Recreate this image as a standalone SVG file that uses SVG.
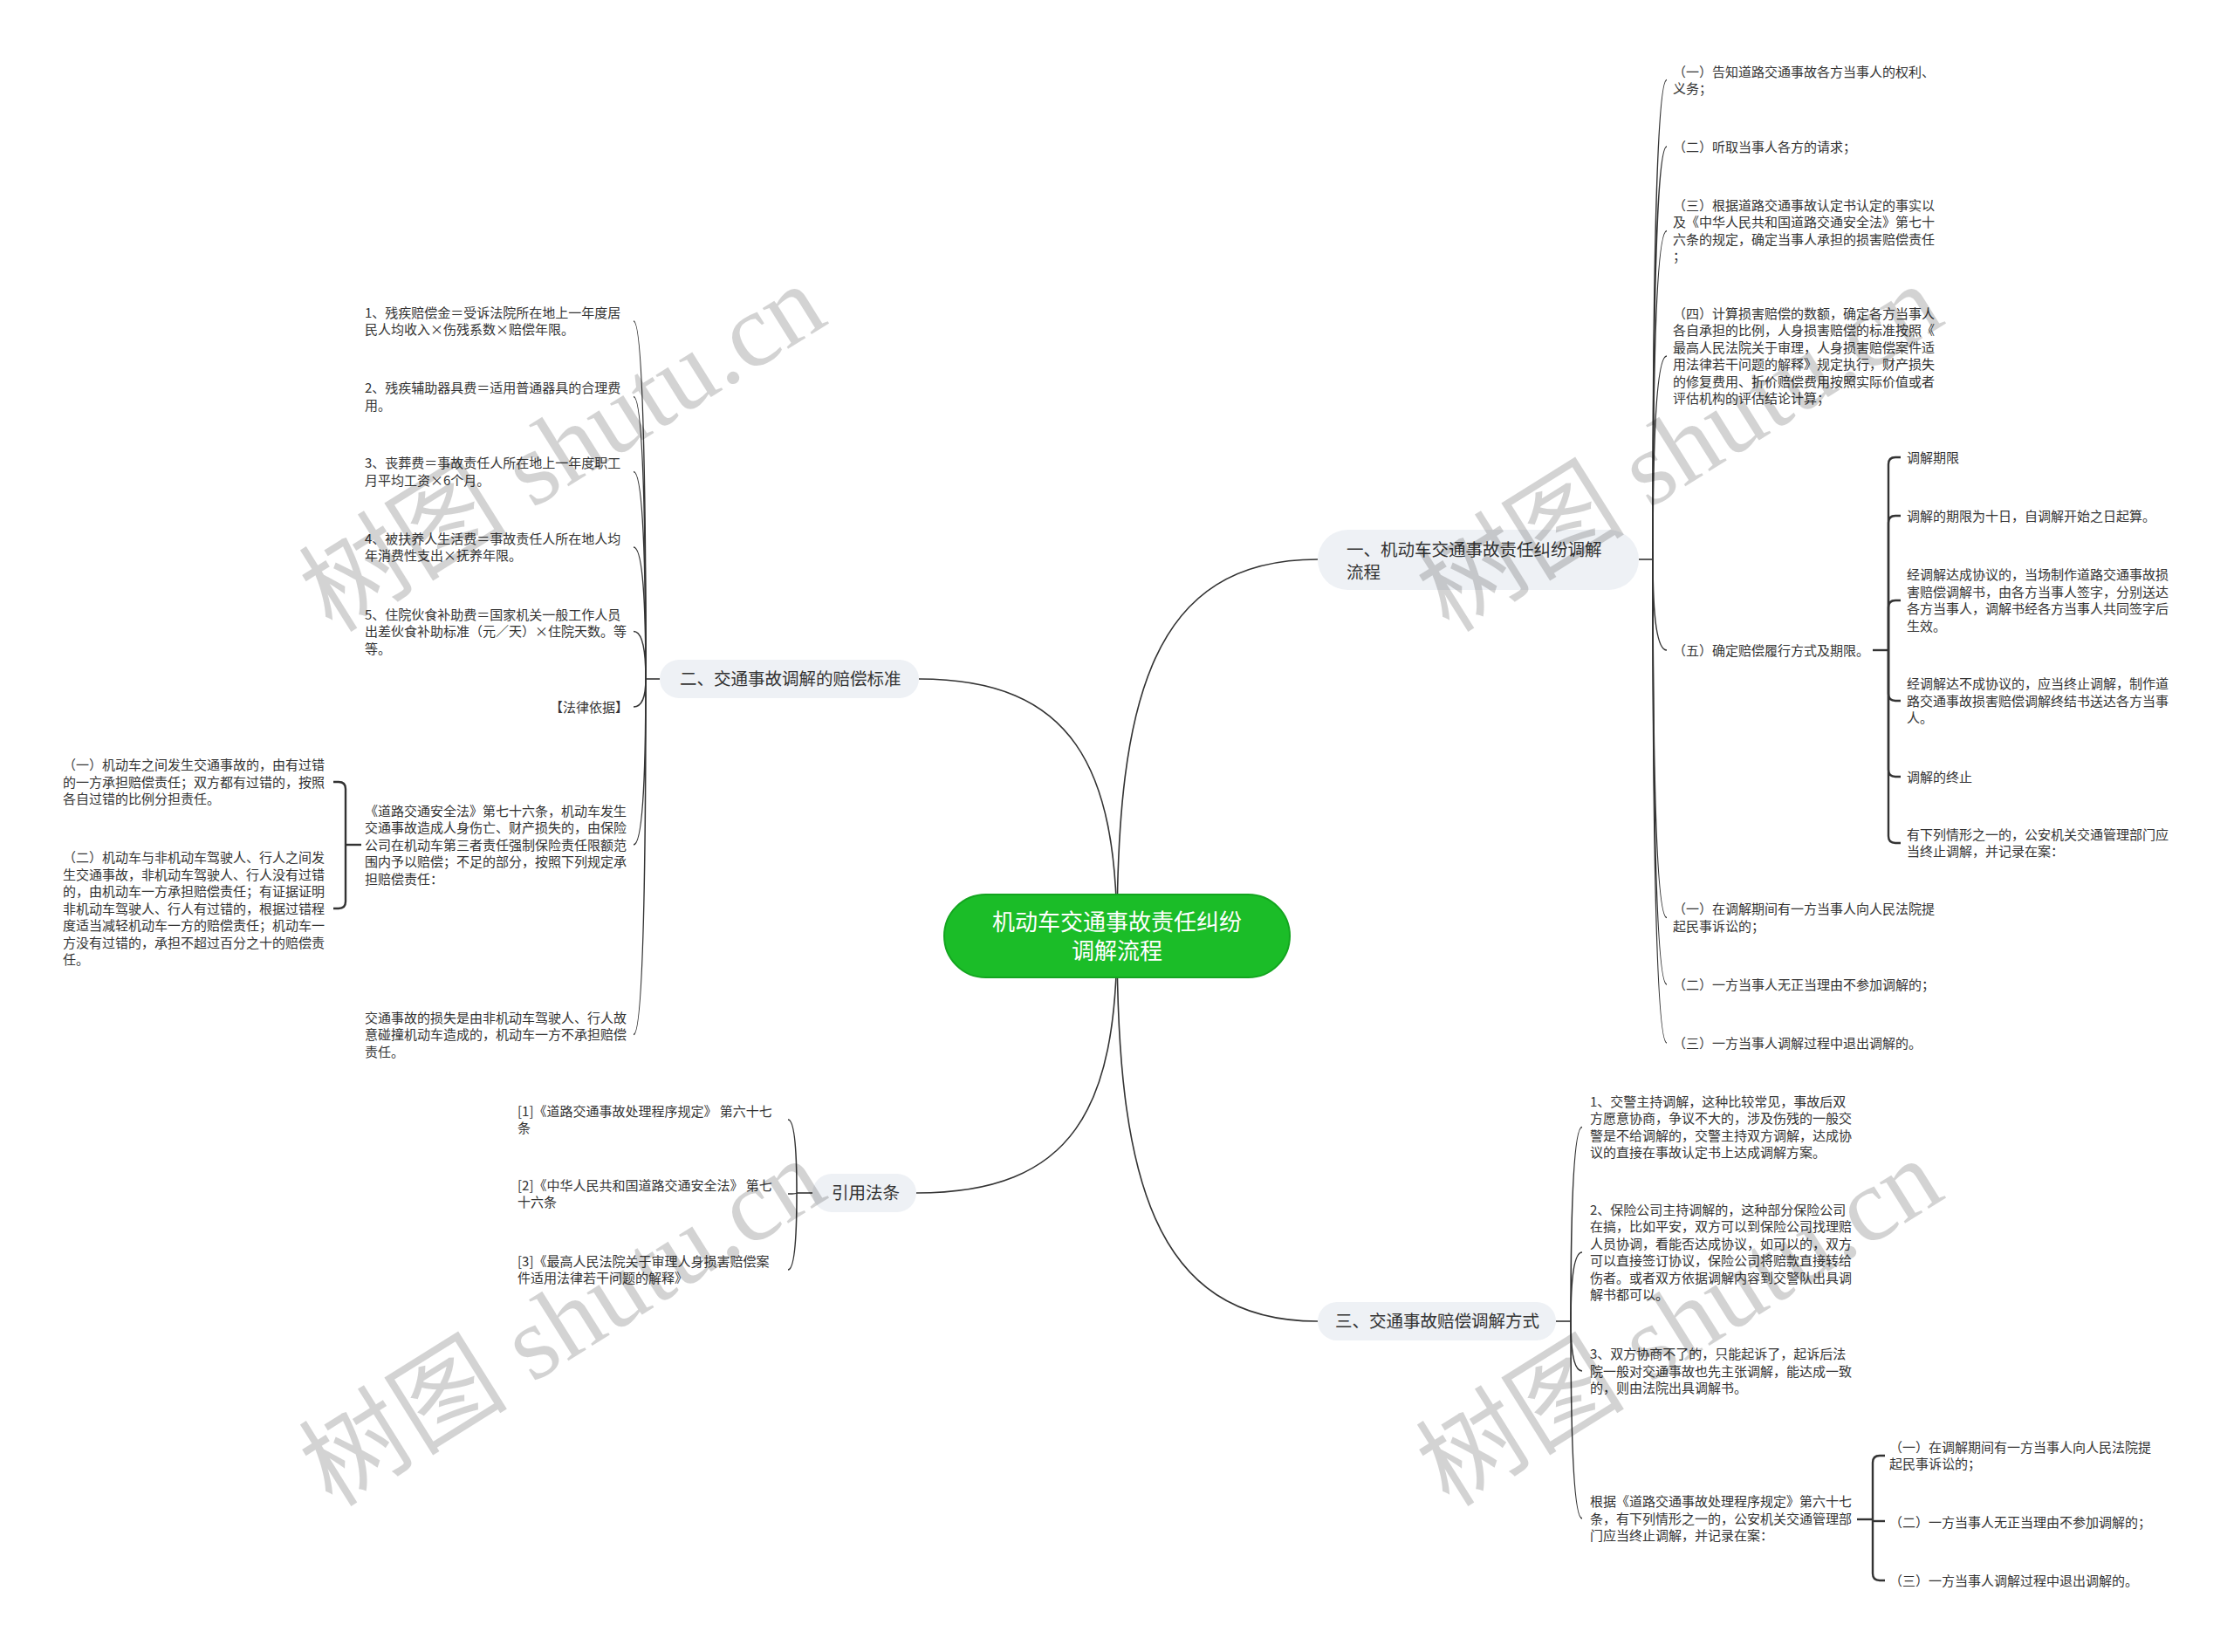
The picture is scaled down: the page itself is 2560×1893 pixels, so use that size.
<svg xmlns="http://www.w3.org/2000/svg" width="2560" height="1893" viewBox="0 0 2560 1893">
<style>
text{font-family:"Noto Sans CJK SC","Noto Sans",sans-serif}
.leaf{font-size:15px;fill:#333}
.br{font-size:19.5px;fill:#333}
.root{font-size:26px;fill:#fff}
.ln{fill:none;stroke:#333;stroke-width:1.6}
.bk{fill:none;stroke:#333;stroke-width:2.4}
.box{fill:#eef1f5}
.wm{font-family:"Liberation Serif","Noto Sans CJK SC",serif;font-size:120px;fill:#000;opacity:.17}
</style>
<rect width="2560" height="1893" fill="#fff"/>
<g id="connectors">
<path class="ln" d="M1280 1073 C1280 800 1320 641 1510 641"/>
<path class="ln" d="M1280 1073 C1280 880 1230 778 1053 778"/>
<path class="ln" d="M1280 1073 C1280 1270 1230 1367 1050 1367"/>
<path class="ln" d="M1280 1073 C1280 1346 1320 1514 1510 1514"/>
<path class="ln" d="M1878 641 H1894"/>
<path class="ln" d="M1894 641 Q1894 91.5 1910 91.5"/>
<path class="ln" d="M1894 641 Q1894 168 1910 168"/>
<path class="ln" d="M1894 641 Q1894 264.5 1910 264.5"/>
<path class="ln" d="M1894 641 Q1894 408 1910 408"/>
<path class="ln" d="M1894 641 Q1894 745 1910 745"/>
<path class="ln" d="M1894 641 Q1894 1051.5 1910 1051.5"/>
<path class="ln" d="M1894 641 Q1894 1128 1910 1128"/>
<path class="ln" d="M1894 641 Q1894 1195 1910 1195"/>
<path class="bk" d="M2146 745 H2164"/>
<path class="bk" d="M2164 745 V532 Q2164 524 2172 524 H2178"/>
<path class="bk" d="M2164 745 V599 Q2164 591 2172 591 H2178"/>
<path class="bk" d="M2164 745 V696 Q2164 688 2172 688 H2178"/>
<path class="bk" d="M2164 745 V795 Q2164 803 2172 803 H2178"/>
<path class="bk" d="M2164 745 V882 Q2164 890 2172 890 H2178"/>
<path class="bk" d="M2164 745 V958 Q2164 966 2172 966 H2178"/>
<path class="ln" d="M756 778 H740"/>
<path class="ln" d="M740 778 Q740 368 726 368"/>
<path class="ln" d="M740 778 Q740 454.5 726 454.5"/>
<path class="ln" d="M740 778 Q740 540.5 726 540.5"/>
<path class="ln" d="M740 778 Q740 627 726 627"/>
<path class="ln" d="M740 778 Q740 723.5 726 723.5"/>
<path class="ln" d="M740 778 Q740 810 726 810"/>
<path class="ln" d="M740 778 Q740 968 726 968"/>
<path class="ln" d="M740 778 Q740 1185.5 726 1185.5"/>
<path class="bk" d="M414 968 H396"/>
<path class="bk" d="M396 968 V904 Q396 896 388 896 H382"/>
<path class="bk" d="M396 968 V1033 Q396 1041 388 1041 H382"/>
<path class="ln" d="M931 1367 H913"/>
<path class="ln" d="M913 1367 Q913 1283 903 1283"/>
<path class="ln" d="M913 1367 Q913 1368 903 1368"/>
<path class="ln" d="M913 1367 Q913 1455 903 1455"/>
<path class="ln" d="M1783 1514 H1800"/>
<path class="ln" d="M1800 1514 Q1800 1291.5 1813 1291.5"/>
<path class="ln" d="M1800 1514 Q1800 1435 1813 1435"/>
<path class="ln" d="M1800 1514 Q1800 1571 1813 1571"/>
<path class="ln" d="M1800 1514 Q1800 1740 1813 1740"/>
<path class="bk" d="M2128 1741 H2146"/>
<path class="bk" d="M2146 1741 V1676 Q2146 1668 2154 1668 H2160"/>
<path class="bk" d="M2146 1743 H2160"/>
<path class="bk" d="M2146 1741 V1803 Q2146 1811 2154 1811 H2160"/>
</g>
<g id="root">
<rect x="1082" y="1025" width="396" height="95" rx="47.5" fill="#1bbd28" stroke="#13a51f" stroke-width="2"/>
<text class="root" text-anchor="middle"><tspan x="1280" y="1065.5">机动车交通事故责任纠纷</tspan><tspan x="1280" y="1098.5">调解流程</tspan></text>
</g>
<g id="b1">
<rect class="box" x="1510" y="607" width="368" height="69" rx="34.5"/>
<text class="br"><tspan x="1543" y="637">一、机动车交通事故责任纠纷调解</tspan><tspan x="1543" y="663">流程</tspan></text>
</g>
<g id="b1-1"><text class="leaf"><tspan x="1917" y="87.5">（一）告知道路交通事故各方当事人的权利、</tspan><tspan x="1917" y="107">义务；</tspan></text></g>
<g id="b1-2"><text class="leaf"><tspan x="1917" y="173.5">（二）听取当事人各方的请求；</tspan></text></g>
<g id="b1-3"><text class="leaf"><tspan x="1917" y="240.75">（三）根据道路交通事故认定书认定的事实以</tspan><tspan x="1917" y="260.25">及《中华人民共和国道路交通安全法》第七十</tspan><tspan x="1917" y="279.75">六条的规定，确定当事人承担的损害赔偿责任</tspan><tspan x="1917" y="299.25">；</tspan></text></g>
<g id="b1-4"><text class="leaf"><tspan x="1917" y="364.75">（四）计算损害赔偿的数额，确定各方当事人</tspan><tspan x="1917" y="384.25">各自承担的比例，人身损害赔偿的标准按照《</tspan><tspan x="1917" y="403.75">最高人民法院关于审理，人身损害赔偿案件适</tspan><tspan x="1917" y="423.25">用法律若干问题的解释》规定执行，财产损失</tspan><tspan x="1917" y="442.75">的修复费用、折价赔偿费用按照实际价值或者</tspan><tspan x="1917" y="462.25">评估机构的评估结论计算；</tspan></text></g>
<g id="b1-5"><text class="leaf"><tspan x="1917" y="750.5">（五）确定赔偿履行方式及期限。</tspan></text></g>
<g id="b1-5-1"><text class="leaf"><tspan x="2185" y="529.5">调解期限</tspan></text></g>
<g id="b1-5-2"><text class="leaf"><tspan x="2185" y="596.5">调解的期限为十日，自调解开始之日起算。</tspan></text></g>
<g id="b1-5-3"><text class="leaf"><tspan x="2185" y="664.25">经调解达成协议的，当场制作道路交通事故损</tspan><tspan x="2185" y="683.75">害赔偿调解书，由各方当事人签字，分别送达</tspan><tspan x="2185" y="703.25">各方当事人，调解书经各方当事人共同签字后</tspan><tspan x="2185" y="722.75">生效。</tspan></text></g>
<g id="b1-5-4"><text class="leaf"><tspan x="2185" y="789">经调解达不成协议的，应当终止调解，制作道</tspan><tspan x="2185" y="808.5">路交通事故损害赔偿调解终结书送达各方当事</tspan><tspan x="2185" y="828">人。</tspan></text></g>
<g id="b1-5-5"><text class="leaf"><tspan x="2185" y="895.5">调解的终止</tspan></text></g>
<g id="b1-5-6"><text class="leaf"><tspan x="2185" y="961.75">有下列情形之一的，公安机关交通管理部门应</tspan><tspan x="2185" y="981.25">当终止调解，并记录在案：</tspan></text></g>
<g id="b1-6"><text class="leaf"><tspan x="1917" y="1047.25">（一）在调解期间有一方当事人向人民法院提</tspan><tspan x="1917" y="1066.75">起民事诉讼的；</tspan></text></g>
<g id="b1-7"><text class="leaf"><tspan x="1917" y="1133.5">（二）一方当事人无正当理由不参加调解的；</tspan></text></g>
<g id="b1-8"><text class="leaf"><tspan x="1917" y="1200.5">（三）一方当事人调解过程中退出调解的。</tspan></text></g>
<g id="b2">
<rect class="box" x="756" y="756" width="297" height="44" rx="22"/>
<text class="br" x="779" y="785">二、交通事故调解的赔偿标准</text>
</g>
<g id="b2-1"><text class="leaf"><tspan x="418" y="363.75">1、残疾赔偿金＝受诉法院所在地上一年度居</tspan><tspan x="418" y="383.25">民人均收入×伤残系数×赔偿年限。</tspan></text></g>
<g id="b2-2"><text class="leaf"><tspan x="418" y="450.25">2、残疾辅助器具费＝适用普通器具的合理费</tspan><tspan x="418" y="469.75">用。</tspan></text></g>
<g id="b2-3"><text class="leaf"><tspan x="418" y="536.25">3、丧葬费＝事故责任人所在地上一年度职工</tspan><tspan x="418" y="555.75">月平均工资×6个月。</tspan></text></g>
<g id="b2-4"><text class="leaf"><tspan x="418" y="622.75">4、被扶养人生活费＝事故责任人所在地人均</tspan><tspan x="418" y="642.25">年消费性支出×抚养年限。</tspan></text></g>
<g id="b2-5"><text class="leaf"><tspan x="418" y="709.5">5、住院伙食补助费＝国家机关一般工作人员</tspan><tspan x="418" y="729">出差伙食补助标准（元／天）×住院天数。等</tspan><tspan x="418" y="748.5">等。</tspan></text></g>
<g id="b2-6"><text class="leaf" x="630" y="815.5">【法律依据】</text></g>
<g id="b2-7"><text class="leaf"><tspan x="418" y="934.5">《道路交通安全法》第七十六条，机动车发生</tspan><tspan x="418" y="954">交通事故造成人身伤亡、财产损失的，由保险</tspan><tspan x="418" y="973.5">公司在机动车第三者责任强制保险责任限额范</tspan><tspan x="418" y="993">围内予以赔偿；不足的部分，按照下列规定承</tspan><tspan x="418" y="1012.5">担赔偿责任：</tspan></text></g>
<g id="b2-7-1"><text class="leaf"><tspan x="72" y="882">（一）机动车之间发生交通事故的，由有过错</tspan><tspan x="72" y="901.5">的一方承担赔偿责任；双方都有过错的，按照</tspan><tspan x="72" y="921">各自过错的比例分担责任。</tspan></text></g>
<g id="b2-7-2"><text class="leaf"><tspan x="72" y="988">（二）机动车与非机动车驾驶人、行人之间发</tspan><tspan x="72" y="1007.5">生交通事故，非机动车驾驶人、行人没有过错</tspan><tspan x="72" y="1027">的，由机动车一方承担赔偿责任；有证据证明</tspan><tspan x="72" y="1046.5">非机动车驾驶人、行人有过错的，根据过错程</tspan><tspan x="72" y="1066">度适当减轻机动车一方的赔偿责任；机动车一</tspan><tspan x="72" y="1085.5">方没有过错的，承担不超过百分之十的赔偿责</tspan><tspan x="72" y="1105">任。</tspan></text></g>
<g id="b2-8"><text class="leaf"><tspan x="418" y="1171.5">交通事故的损失是由非机动车驾驶人、行人故</tspan><tspan x="418" y="1191">意碰撞机动车造成的，机动车一方不承担赔偿</tspan><tspan x="418" y="1210.5">责任。</tspan></text></g>
<g id="b3">
<rect class="box" x="931" y="1345" width="119" height="44" rx="22"/>
<text class="br" x="953" y="1374">引用法条</text>
</g>
<g id="b3-1"><text class="leaf"><tspan x="593" y="1278.75">[1]《道路交通事故处理程序规定》 第六十七</tspan><tspan x="593" y="1298.25">条</tspan></text></g>
<g id="b3-2"><text class="leaf"><tspan x="593" y="1363.75">[2]《中华人民共和国道路交通安全法》 第七</tspan><tspan x="593" y="1383.25">十六条</tspan></text></g>
<g id="b3-3"><text class="leaf"><tspan x="593" y="1450.75">[3]《最高人民法院关于审理人身损害赔偿案</tspan><tspan x="593" y="1470.25">件适用法律若干问题的解释》</tspan></text></g>
<g id="b4">
<rect class="box" x="1510" y="1492" width="273" height="44" rx="22"/>
<text class="br" x="1530" y="1521">三、交通事故赔偿调解方式</text>
</g>
<g id="b4-1"><text class="leaf"><tspan x="1822" y="1267.75">1、交警主持调解，这种比较常见，事故后双</tspan><tspan x="1822" y="1287.25">方愿意协商，争议不大的，涉及伤残的一般交</tspan><tspan x="1822" y="1306.75">警是不给调解的，交警主持双方调解，达成协</tspan><tspan x="1822" y="1326.25">议的直接在事故认定书上达成调解方案。</tspan></text></g>
<g id="b4-2"><text class="leaf"><tspan x="1822" y="1391.75">2、保险公司主持调解的，这种部分保险公司</tspan><tspan x="1822" y="1411.25">在搞，比如平安，双方可以到保险公司找理赔</tspan><tspan x="1822" y="1430.75">人员协调，看能否达成协议，如可以的，双方</tspan><tspan x="1822" y="1450.25">可以直接签订协议，保险公司将赔款直接转给</tspan><tspan x="1822" y="1469.75">伤者。或者双方依据调解内容到交警队出具调</tspan><tspan x="1822" y="1489.25">解书都可以。</tspan></text></g>
<g id="b4-3"><text class="leaf"><tspan x="1822" y="1557">3、双方协商不了的，只能起诉了，起诉后法</tspan><tspan x="1822" y="1576.5">院一般对交通事故也先主张调解，能达成一致</tspan><tspan x="1822" y="1596">的，则由法院出具调解书。</tspan></text></g>
<g id="b4-4"><text class="leaf"><tspan x="1822" y="1726">根据《道路交通事故处理程序规定》第六十七</tspan><tspan x="1822" y="1745.5">条，有下列情形之一的，公安机关交通管理部</tspan><tspan x="1822" y="1765">门应当终止调解，并记录在案：</tspan></text></g>
<g id="b4-4-1"><text class="leaf"><tspan x="2165" y="1663.75">（一）在调解期间有一方当事人向人民法院提</tspan><tspan x="2165" y="1683.25">起民事诉讼的；</tspan></text></g>
<g id="b4-4-2"><text class="leaf"><tspan x="2165" y="1749.5">（二）一方当事人无正当理由不参加调解的；</tspan></text></g>
<g id="b4-4-3"><text class="leaf"><tspan x="2165" y="1816.5">（三）一方当事人调解过程中退出调解的。</tspan></text></g>
<g id="watermarks">
<text class="wm" text-anchor="middle" transform="translate(645 514) rotate(-32)" y="40">树图 shutu.cn</text>
<text class="wm" text-anchor="middle" transform="translate(645 1516) rotate(-32)" y="40">树图 shutu.cn</text>
<text class="wm" text-anchor="middle" transform="translate(1925 514) rotate(-32)" y="40">树图 shutu.cn</text>
<text class="wm" text-anchor="middle" transform="translate(1925 1516) rotate(-32)" y="40">树图 shutu.cn</text>
</g>
</svg>
